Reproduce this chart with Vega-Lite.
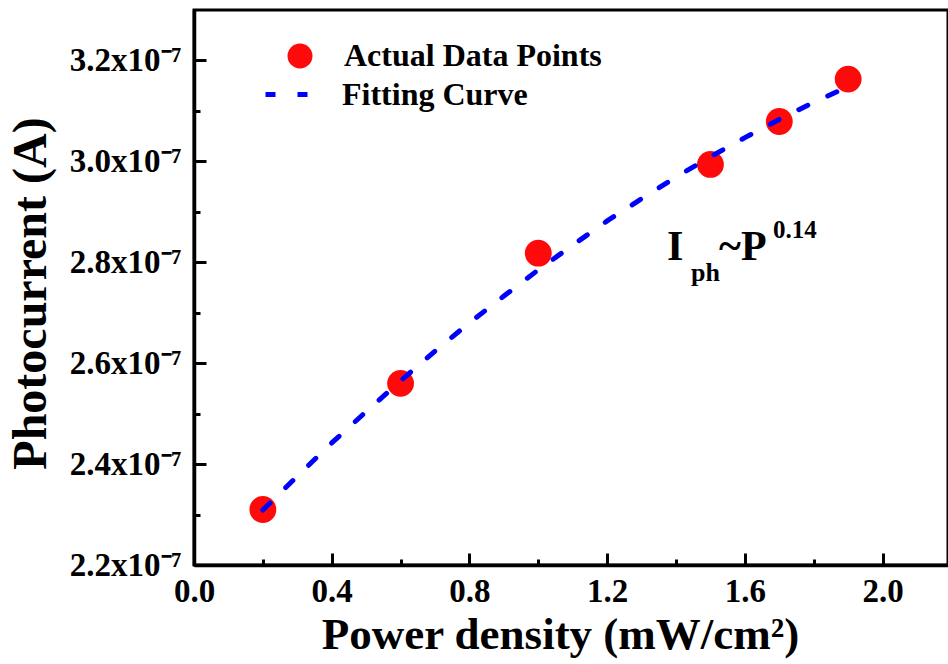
{
  "$schema": "https://vega.github.io/schema/vega-lite/v6.json",
  "width": 754,
  "height": 555,
  "autosize": {"type": "none"},
  "padding": {"left": 194, "top": 10, "right": 0, "bottom": 99},
  "background": "white",
  "config": {
    "view": {"stroke": "black", "strokeWidth": 3},
    "font": "Liberation Serif",
    "axis": {
      "domainColor": "black", "domainWidth": 3.5, "tickColor": "black", "tickWidth": 3,
      "grid": false, "labelFont": "Liberation Serif", "labelFontWeight": "bold", "labelColor": "black",
      "labelFontSize": 33, "titleFont": "Liberation Serif", "titleFontWeight": "bold", "titleColor": "black",
      "labelFlush": false, "labelOverlap": false, "labelBound": false
    }
  },
  "datasets": {
    "points": [
      {"power": 0.2, "current": 2.310e-7, "series": "Actual Data Points"},
      {"power": 0.6, "current": 2.560e-7, "series": "Actual Data Points"},
      {"power": 1.0, "current": 2.818e-7, "series": "Actual Data Points"},
      {"power": 1.5, "current": 2.994e-7, "series": "Actual Data Points"},
      {"power": 1.7, "current": 3.079e-7, "series": "Actual Data Points"},
      {"power": 1.9, "current": 3.163e-7, "series": "Actual Data Points"}
    ],
    "fit": [
      {"power": 0.2, "current": 2.309e-7, "series": "Fitting Curve"},
      {"power": 0.3, "current": 2.376e-7, "series": "Fitting Curve"},
      {"power": 0.4, "current": 2.442e-7, "series": "Fitting Curve"},
      {"power": 0.5, "current": 2.504e-7, "series": "Fitting Curve"},
      {"power": 0.6, "current": 2.565e-7, "series": "Fitting Curve"},
      {"power": 0.7, "current": 2.624e-7, "series": "Fitting Curve"},
      {"power": 0.8, "current": 2.680e-7, "series": "Fitting Curve"},
      {"power": 0.9, "current": 2.733e-7, "series": "Fitting Curve"},
      {"power": 1.0, "current": 2.785e-7, "series": "Fitting Curve"},
      {"power": 1.1, "current": 2.834e-7, "series": "Fitting Curve"},
      {"power": 1.2, "current": 2.882e-7, "series": "Fitting Curve"},
      {"power": 1.3, "current": 2.926e-7, "series": "Fitting Curve"},
      {"power": 1.4, "current": 2.969e-7, "series": "Fitting Curve"},
      {"power": 1.5, "current": 3.009e-7, "series": "Fitting Curve"},
      {"power": 1.6, "current": 3.047e-7, "series": "Fitting Curve"},
      {"power": 1.7, "current": 3.083e-7, "series": "Fitting Curve"},
      {"power": 1.8, "current": 3.117e-7, "series": "Fitting Curve"},
      {"power": 1.9, "current": 3.148e-7, "series": "Fitting Curve"}
    ],
    "label": [{"name": "annotation"}]
  },
  "layer": [
    {
      "data": {"name": "points"},
      "mark": {"type": "point", "filled": true, "size": 720, "strokeWidth": 0, "opacity": 1},
      "encoding": {
        "x": {"field": "power", "type": "quantitative", "scale": {"domain": [0, 2.19], "nice": false, "zero": false},
          "axis": {"orient": "bottom", "values": [0, 0.4, 0.8, 1.2, 1.6, 2.0], "tickSize": -12, "labelPadding": 22,
            "labelFontSize": 33, "labelFont": "Liberation Serif", "labelFontWeight": "bold",
            "labelExpr": "format(datum.value, '.1f')", "title": "Power density (mW/cm²)", "titleFontSize": 45,
            "titleBaseline": "alphabetic", "titleY": 83, "titleX": 366, "titleAlign": "center"}},
        "y": {"field": "current", "type": "quantitative", "scale": {"domain": [2.2e-7, 3.3e-7], "nice": false, "zero": false},
          "axis": {"orient": "left", "values": [2.2e-7, 2.4e-7, 2.6e-7, 2.8e-7, 3.0e-7, 3.2e-7], "tickSize": -12, "labelPadding": 25,
            "labelFontSize": 33, "labelFont": "Liberation Serif", "labelFontWeight": "bold",
            "labelExpr": "format(datum.value * 1e7, '.1f') + 'x10⁻⁷'", "title": "Photocurrent (A)", "titleFontSize": 48,
            "titleBaseline": "alphabetic", "titleX": -149, "titleY": 283, "titleAlign": "center", "titleAngle": 270}},
        "color": {"field": "series", "type": "nominal",
          "scale": {"domain": ["Actual Data Points"], "range": ["#ff0a0a"]},
          "legend": {
            "title": null, "orient": "none", "legendX": 90, "legendY": 30, "padding": 0,
            "labelFont": "Liberation Serif", "labelFontWeight": "bold", "labelFontSize": 32, "labelColor": "black",
            "labelLimit": 500, "symbolSize": 625, "symbolType": "circle", "labelOffset": 28, "symbolOpacity": 1
          }}
      }
    },
    {
      "data": {"name": "fit"},
      "mark": {"type": "line", "strokeWidth": 5, "strokeCap": "round", "color": "#0000ff"},
      "encoding": {
        "x": {"field": "power", "type": "quantitative",
          "axis": {"orient": "bottom", "values": [0.2, 0.6, 1.0, 1.4, 1.8], "labels": false, "tickSize": -6, "domain": false, "title": null}},
        "y": {"field": "current", "type": "quantitative",
          "axis": {"orient": "left", "values": [2.3e-7, 2.5e-7, 2.7e-7, 2.9e-7, 3.1e-7], "labels": false, "tickSize": -6, "domain": false, "title": null}},
        "strokeDash": {"field": "series", "type": "nominal",
          "scale": {"domain": ["Fitting Curve"], "range": [[10, 22]]},
          "legend": {
            "title": null, "orient": "none", "legendX": 69, "legendY": 56, "padding": 0,
            "labelFont": "Liberation Serif", "labelFontWeight": "bold", "labelFontSize": 32, "labelColor": "black",
            "labelLimit": 500, "symbolSize": 2704, "symbolType": "stroke", "symbolStrokeColor": "#0000ff", "symbolStrokeWidth": 5, "labelOffset": 22
          }}
      }
    },
    {
      "data": {"name": "label"},
      "mark": {"type": "text", "text": "I", "font": "Liberation Serif", "fontWeight": "bold", "fontSize": 42, "align": "left", "baseline": "alphabetic", "color": "black"},
      "encoding": {"x": {"datum": 1.374, "type": "quantitative", "axis": null}, "y": {"datum": 2.805e-7, "type": "quantitative", "axis": null}}
    },
    {
      "data": {"name": "label"},
      "mark": {"type": "text", "text": "ph", "font": "Liberation Serif", "fontWeight": "bold", "fontSize": 26, "align": "left", "baseline": "alphabetic", "dx": 24, "dy": 21, "color": "black"},
      "encoding": {"x": {"datum": 1.374, "type": "quantitative", "axis": null}, "y": {"datum": 2.805e-7, "type": "quantitative", "axis": null}}
    },
    {
      "data": {"name": "label"},
      "mark": {"type": "text", "text": "~P", "font": "Liberation Serif", "fontWeight": "bold", "fontSize": 42, "align": "left", "baseline": "alphabetic", "dx": 52, "color": "black"},
      "encoding": {"x": {"datum": 1.374, "type": "quantitative", "axis": null}, "y": {"datum": 2.805e-7, "type": "quantitative", "axis": null}}
    },
    {
      "data": {"name": "label"},
      "mark": {"type": "text", "text": "0.14", "font": "Liberation Serif", "fontWeight": "bold", "fontSize": 25, "align": "left", "baseline": "alphabetic", "dx": 106, "dy": -22, "color": "black"},
      "encoding": {"x": {"datum": 1.374, "type": "quantitative", "axis": null}, "y": {"datum": 2.805e-7, "type": "quantitative", "axis": null}}
    }
  ],
  "resolve": {"axis": {"x": "independent", "y": "independent"}}
}
